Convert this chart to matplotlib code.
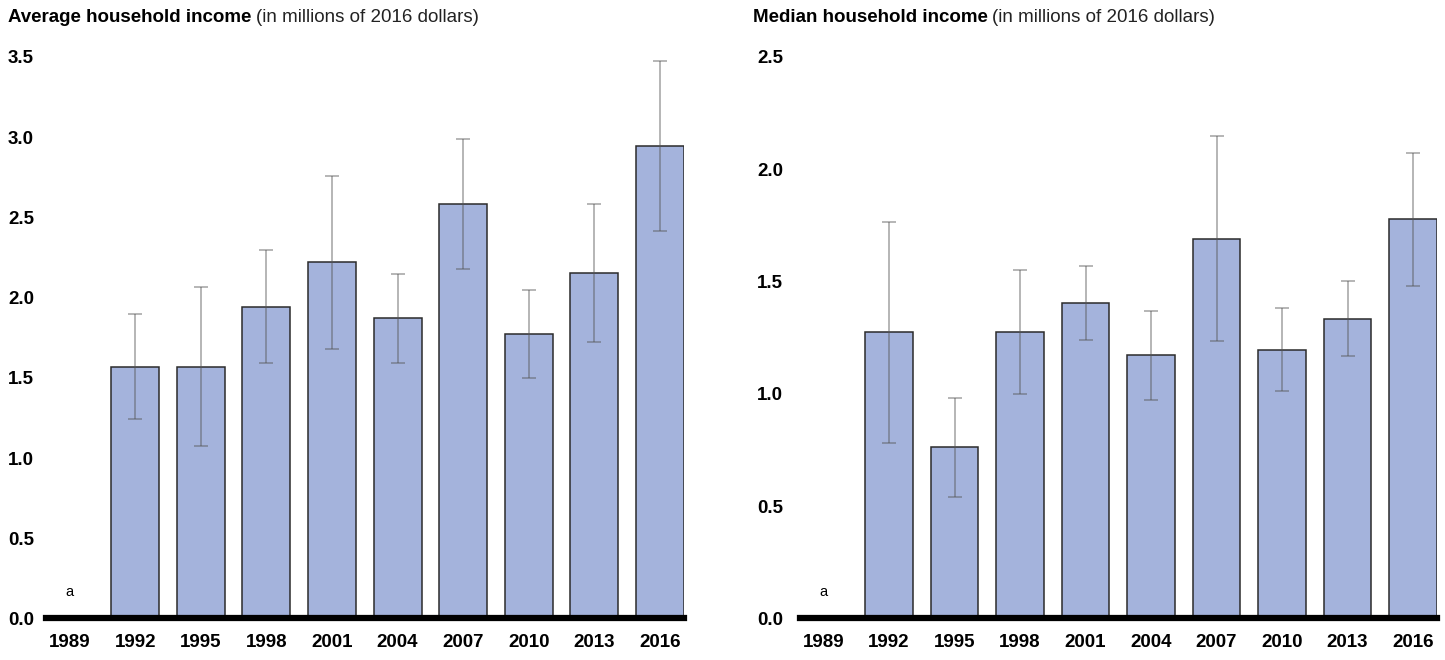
import numpy as np
import matplotlib
matplotlib.use("Agg")
import matplotlib.pyplot as plt

plt.rcParams['font.family'] = ['Liberation Sans', 'DejaVu Sans']

# survey years (1989 has no estimate, marked "a")
years = ['1989', '1992', '1995', '1998', '2001', '2004', '2007', '2010', '2013', '2016']

# average household income, millions of 2016 dollars (1992-2016)
avg_income = [1.567, 1.565, 1.944, 2.222, 1.872, 2.585, 1.772, 2.152, 2.944]
avg_low = [1.245, 1.075, 1.589, 1.681, 1.592, 2.179, 1.496, 1.724, 2.414]
avg_high = [1.898, 2.065, 2.297, 2.760, 2.148, 2.990, 2.048, 2.582, 3.476]

# median household income
med_income = [1.273, 0.762, 1.274, 1.403, 1.172, 1.690, 1.196, 1.334, 1.776]
med_low = [0.780, 0.541, 0.998, 1.240, 0.973, 1.234, 1.012, 1.167, 1.480]
med_high = [1.763, 0.983, 1.552, 1.567, 1.369, 2.147, 1.381, 1.501, 2.071]

bar_color = '#a4b3dc'
fs = 13.5

fig = plt.figure(figsize=(14.45, 6.6), dpi=100)
ax1 = fig.add_axes([0.0318, 0.0629, 0.4415, 0.851])
ax2 = fig.add_axes([0.5536, 0.0629, 0.4408, 0.851])


def draw_panel(ax, vals, lows, highs, ymax, title_bold, title_x, ypad):
    x = np.arange(1, len(years))
    vals = np.array(vals)
    err = [vals - np.array(lows), np.array(highs) - vals]
    ax.bar(x, vals, width=0.73, color=bar_color, edgecolor='#2b2b2b', linewidth=1.1, zorder=2)
    ax.errorbar(x, vals, yerr=err, fmt='none', ecolor='#555555', alpha=0.55,
                elinewidth=1.1, capsize=5, capthick=1.1, zorder=3)
    ax.set_xlim(-0.36, 9.365)
    ax.set_ylim(0, ymax)
    ticks = np.arange(0, ymax + 0.01, 0.5)
    ax.set_yticks(ticks)
    ax.set_yticklabels(['%.1f' % v for v in ticks], fontsize=fs, fontweight='bold')
    ax.set_xticks(range(len(years)))
    ax.set_xticklabels(years, fontsize=fs, fontweight='bold')
    ax.tick_params(axis='both', length=0)
    ax.tick_params(axis='x', pad=11)
    # y labels are left aligned at the far left of each panel
    ax.tick_params(axis='y', pad=ypad)
    for lab in ax.get_yticklabels():
        lab.set_horizontalalignment('left')
    for s in ['top', 'right', 'left']:
        ax.spines[s].set_visible(False)
    ax.spines['bottom'].set_linewidth(4.5)
    ax.spines['bottom'].set_zorder(4)
    # "a" marks 1989
    ax.annotate('a', xy=(0, 0), xytext=(0, 19), textcoords='offset points',
                ha='center', va='center', fontsize=10.5)
    t = fig.text(title_x, 1 - 18 / 660, title_bold, fontsize=fs, fontweight='bold',
                 va='center', ha='left')
    fig.canvas.draw()
    bb = t.get_window_extent()
    fig.text(bb.x1 / fig.bbox.width + 0.003, 1 - 18 / 660, '(in millions of 2016 dollars)',
             fontsize=fs, va='center', ha='left', color='#222222')


draw_panel(ax1, avg_income, avg_low, avg_high, 3.5, 'Average household income', 8 / 1445, 27.4)
draw_panel(ax2, med_income, med_low, med_high, 2.5, 'Median household income', 753 / 1445, 31)

fig.savefig('out.png', dpi=100)
